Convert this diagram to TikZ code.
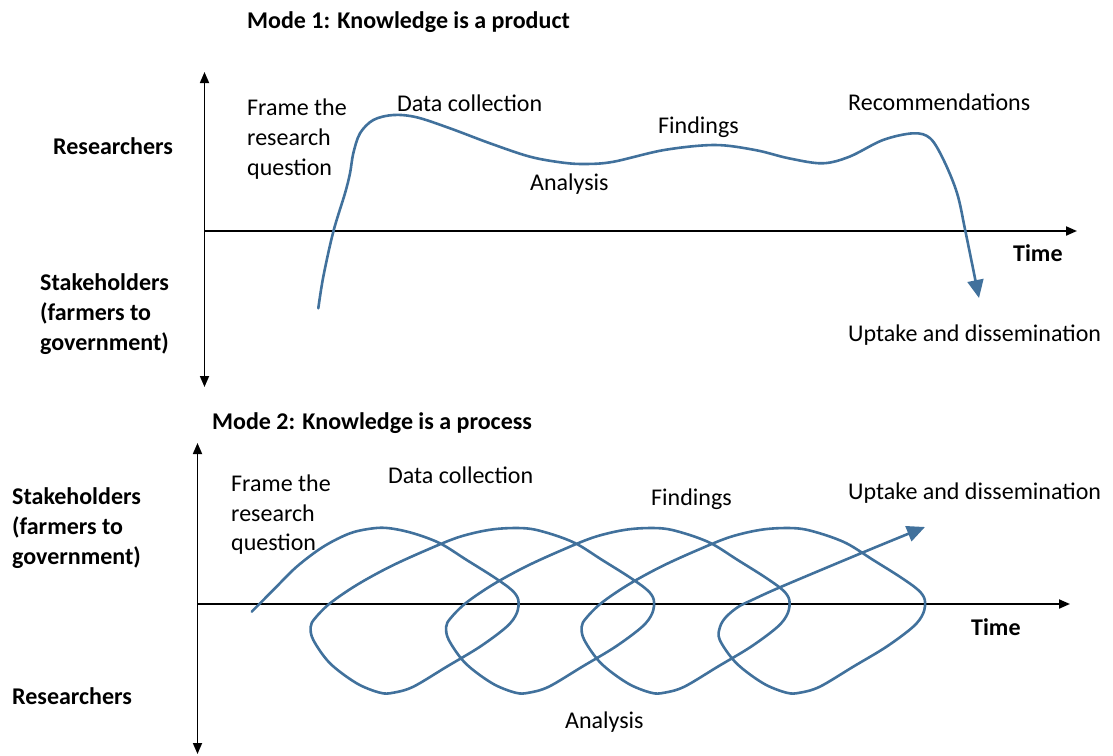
\documentclass[tikz,border=0pt]{standalone}
\usepackage{fontspec}
\setmainfont{Carlito}
\usetikzlibrary{arrows.meta}
\definecolor{curveblue}{RGB}{65,113,156}
\begin{document}
\begin{tikzpicture}[x=1pt,y=-1pt,
  lbl/.style={anchor=base west,inner sep=0pt,font=\fontsize{24}{30}\selectfont},
  blbl/.style={anchor=base west,inner sep=0pt,font=\fontsize{24}{30}\selectfont\bfseries},
  vaxis/.style={draw=black,line width=1.7pt,{Triangle[width=9pt,length=11pt]}-{Triangle[width=9pt,length=11pt]}},
  haxis/.style={draw=black,line width=2pt,-{Triangle[width=9pt,length=11pt]}},
  flow/.style={draw=curveblue,line width=2.6pt,line cap=round,-{Triangle[width=16pt,length=18pt]}}]
\useasboundingbox (0,0) rectangle (1113,755);

% ---------- Mode 1 ----------
\coordinate (a1t) at (204.5,72);
\coordinate (a1b) at (204.5,387);
\coordinate (h1l) at (204.5,231);
\coordinate (h1r) at (1077,231);
\draw[vaxis] (a1t) -- (a1b);
\draw[haxis] (h1l) -- (h1r);

\node[blbl] (m1) at (247,28) {Mode 1: Knowledge is a product};
\node[blbl] (res1) at (53,154) {Researchers};
\node[blbl] (st1a) at (40,290) {Stakeholders};
\node[blbl] (st1b) at (40,320) {(farmers to};
\node[blbl] (st1c) at (40,350) {government)};
\node[blbl] (time1) at (1013,261) {Time};
\node[lbl] (fr1a) at (247,115) {Frame the};
\node[lbl] (fr1b) at (247,145) {research};
\node[lbl] (fr1c) at (247,175) {question};
\node[lbl] (dc1) at (397,111) {Data collection};
\node[lbl] (an1) at (530,190) {Analysis};
\node[lbl] (fi1) at (658,133) {Findings};
\node[lbl] (rec1) at (848,110) {Recommendations};
\node[lbl] (up1) at (848,341) {Uptake and dissemination};

\draw[flow] plot[smooth,tension=0.55] coordinates {(318.3,308.3) (323.3,276.7) (333.3,231.7) (345,193.3) (350,173.3) (353.3,153.3) (360,133.3) (373.3,120) (393.3,115) (416.7,117.3) (450,128.3) (490,143.3) (530,156.7) (563.3,162.7) (586.7,164) (613.7,161.7) (664.2,150) (714.7,145) (755.1,150) (788.8,158.3) (822.4,163.3) (849.4,156.7) (883,140) (913.3,133.3) (930.2,138.3) (943.6,160) (957.1,193.3) (965.5,231.7) (979,298)};

% ---------- Mode 2 ----------
\coordinate (a2t) at (197.5,443);
\coordinate (a2b) at (197.5,754);
\coordinate (h2l) at (197.5,604);
\coordinate (h2r) at (1070,604);
\draw[vaxis] (a2t) -- (a2b);
\draw[haxis] (h2l) -- (h2r);

\node[blbl] (m2) at (212,429) {Mode 2: Knowledge is a process};
\node[blbl] (st2a) at (12,504) {Stakeholders};
\node[blbl] (st2b) at (12,534) {(farmers to};
\node[blbl] (st2c) at (12,564) {government)};
\node[blbl] (res2) at (12,704) {Researchers};
\node[blbl] (time2) at (971,635) {Time};
\node[lbl] (fr2a) at (231,491) {Frame the};
\node[lbl] (fr2b) at (231,521) {research};
\node[lbl] (fr2c) at (231,550) {question};
\node[lbl] (dc2) at (388,483) {Data collection};
\node[lbl] (fi2) at (651,505) {Findings};
\node[lbl] (up2) at (848,499) {Uptake and dissemination};
\node[lbl] (an2) at (565,728) {Analysis};

\def\loopdata{3/0.3,26.3/5.3,53/15.3,79.7/32,106.3/48.7,124.7/62,131.3/72,129.7/85.3,119.7/98.7,93/118.7,59.7/138.7,26.3/158.7,6.3/164.7,-7/164.7,-30.3/155.3,-57/135.3,-73.7/112,-76.3/98.7,-72/90.3,-57/75.3,-30.3/57,3/38.7,39.7/22,73/8.7,106.3/1.3}
\def\lastdata{3/0.3,26.3/5.3,53/15.3,79.7/32,106.3/48.7,124.7/62,131.3/72,129.7/85.3,119.7/98.7,93/118.7,59.7/138.7,26.3/158.7,6.3/164.7,-7/164.7,-30.3/155.3,-57/135.3,-73.7/112}
\xdef\curvepts{(251.7,611.7) (273.3,590) (296.7,566.7) (323.3,546.7) (350,533.3) (373.3,528.3)}
\foreach \k in {0,1,2}{%
  \foreach \dx/\dy in \loopdata {%
    \pgfmathsetmacro\X{387+135.5*\k+(\dx)}%
    \pgfmathsetmacro\Y{528+(\dy)}%
    \xdef\curvepts{\curvepts (\X,\Y)}%
  }%
}
\foreach \dx/\dy in \lastdata {%
  \pgfmathsetmacro\X{793.5+(\dx)}%
  \pgfmathsetmacro\Y{528+(\dy)}%
  \xdef\curvepts{\curvepts (\X,\Y)}%
}
\xdef\curvepts{\curvepts (720,627) (726,617) (738,607) (752,600) (783,586) (870,549.5) (925,527)}
\edef\drawmodetwo{\noexpand\draw[flow] plot[smooth,tension=0.55] coordinates {\curvepts};}
\drawmodetwo
\end{tikzpicture}
\end{document}
